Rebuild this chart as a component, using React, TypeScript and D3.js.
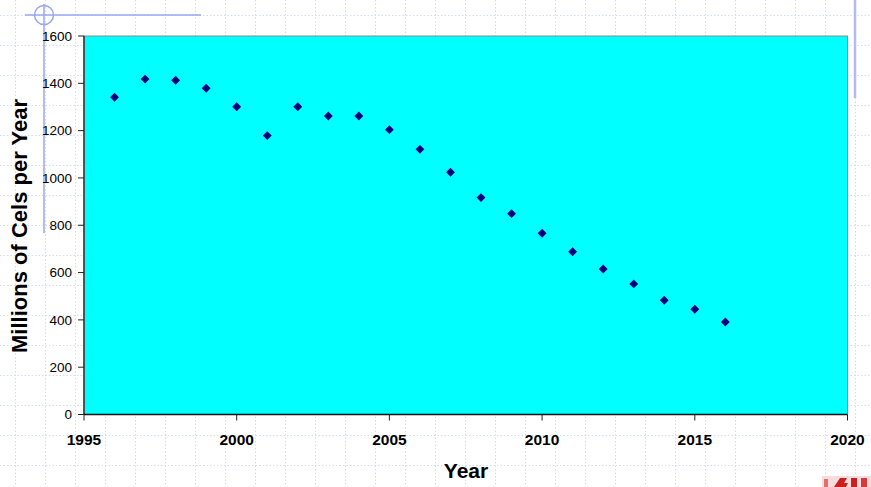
import React from "react";
import * as d3 from "d3";

const years = [1996, 1997, 1998, 1999, 2000, 2001, 2002, 2003, 2004, 2005, 2006, 2007, 2008, 2009, 2010, 2011, 2012, 2013, 2014, 2015, 2016];
const cels = [1341, 1418, 1413, 1379, 1301, 1179, 1301, 1262, 1262, 1204, 1121, 1024, 917, 849, 766, 688, 615, 552, 483, 445, 391];
const xTicks = [1995, 2000, 2005, 2010, 2015, 2020];
const yTicks = [0, 200, 400, 600, 800, 1000, 1200, 1400, 1600];

const W = 871;
const H = 487;
const plot = { left: 84, top: 36, right: 847.5, bottom: 414.5 };

export default function App() {
  const x = d3.scaleLinear().domain([1995, 2020]).range([plot.left, plot.right]);
  const y = d3.scaleLinear().domain([0, 1600]).range([plot.bottom, plot.top]);
  const diamond = d3.symbol().type(d3.symbolDiamond2).size(50)();

  const gridX = d3.range(15, W, 30);
  const gridY = d3.range(15, H, 30);
  const font = "Arial, 'Liberation Sans', Helvetica, sans-serif";

  return (
    <svg
      width={W}
      height={H}
      style={{ position: "absolute", left: 0, top: 0, background: "#ffffff" }}
      fontFamily={font}
    >
      {/* dotted page grid */}
      <g stroke="#d3daf8" strokeWidth={1} strokeDasharray="1.5,2">
        {gridX.map((gx) => (
          <line key={"gx" + gx} x1={gx + 0.5} x2={gx + 0.5} y1={0} y2={H} />
        ))}
        {gridY.map((gy) => (
          <line key={"gy" + gy} x1={0} x2={W} y1={gy + 0.5} y2={gy + 0.5} />
        ))}
      </g>

      {/* slide ornaments */}
      <g stroke="#9aa6f2" fill="none" strokeWidth={1.5}>
        <line x1={25} x2={201} y1={15} y2={15} />
        <line x1={44} x2={44} y1={4} y2={233} />
        <circle cx={44} cy={15} r={9.5} />
      </g>
      <line x1={855} x2={855} y1={0} y2={98} stroke="#b3bbf5" strokeWidth={2.5} />

      {/* plot area */}
      <rect
        x={plot.left}
        y={plot.top}
        width={plot.right - plot.left}
        height={plot.bottom - plot.top}
        fill="#00ffff"
        stroke="#8c8c8c"
        strokeWidth={1}
      />

      {/* y axis */}
      <line x1={plot.left} x2={plot.left} y1={plot.top} y2={plot.bottom} stroke="#333" strokeWidth={1.5} />
      {yTicks.map((t) => (
        <g key={"yt" + t}>
          <line x1={plot.left - 6} x2={plot.left} y1={y(t)} y2={y(t)} stroke="#222" strokeWidth={1} />
          <text x={72} y={y(t)} dy="0.36em" textAnchor="end" fontSize={13.5} fill="#000">
            {t}
          </text>
        </g>
      ))}

      {/* x axis */}
      <line x1={plot.left} x2={plot.right} y1={plot.bottom} y2={plot.bottom} stroke="#111" strokeWidth={1.5} />
      {xTicks.map((t) => (
        <g key={"xt" + t}>
          <line x1={x(t)} x2={x(t)} y1={plot.bottom} y2={plot.bottom + 6} stroke="#222" strokeWidth={1} />
          <text x={x(t)} y={445} textAnchor="middle" fontSize={15.5} fontWeight="bold" fill="#000">
            {t}
          </text>
        </g>
      ))}

      {/* data points */}
      <g fill="#000080">
        {years.map((yr, i) => (
          <path key={"p" + yr} d={diamond} transform={`translate(${x(yr)},${y(cels[i])})`} />
        ))}
      </g>

      {/* axis titles */}
      <text x={466} y={478} textAnchor="middle" fontSize={21} fontWeight="bold" fill="#000">
        Year
      </text>
      <text
        transform="translate(27,226) rotate(-90)"
        textAnchor="middle"
        fontSize={22}
        fontWeight="bold"
        fill="#000"
      >
        Millions of Cels per Year
      </text>

      {/* corner logo fragment */}
      <g style={{ filter: "blur(0.5px)" }}>
        <rect x={822} y={476} width={49} height={11} fill="#f6dcdc" />
        <rect x={824} y={479} width={4} height={8} fill="#e07070" />
        <path d="M834,487 L840,478 L847,478 L844,483 L848,483 L846,487 Z" fill="#cc1f1f" />
        <rect x={851} y={478} width={6} height={9} fill="#cc1f1f" />
        <rect x={861} y={478} width={6} height={9} fill="#d53a3a" />
      </g>
    </svg>
  );
}
